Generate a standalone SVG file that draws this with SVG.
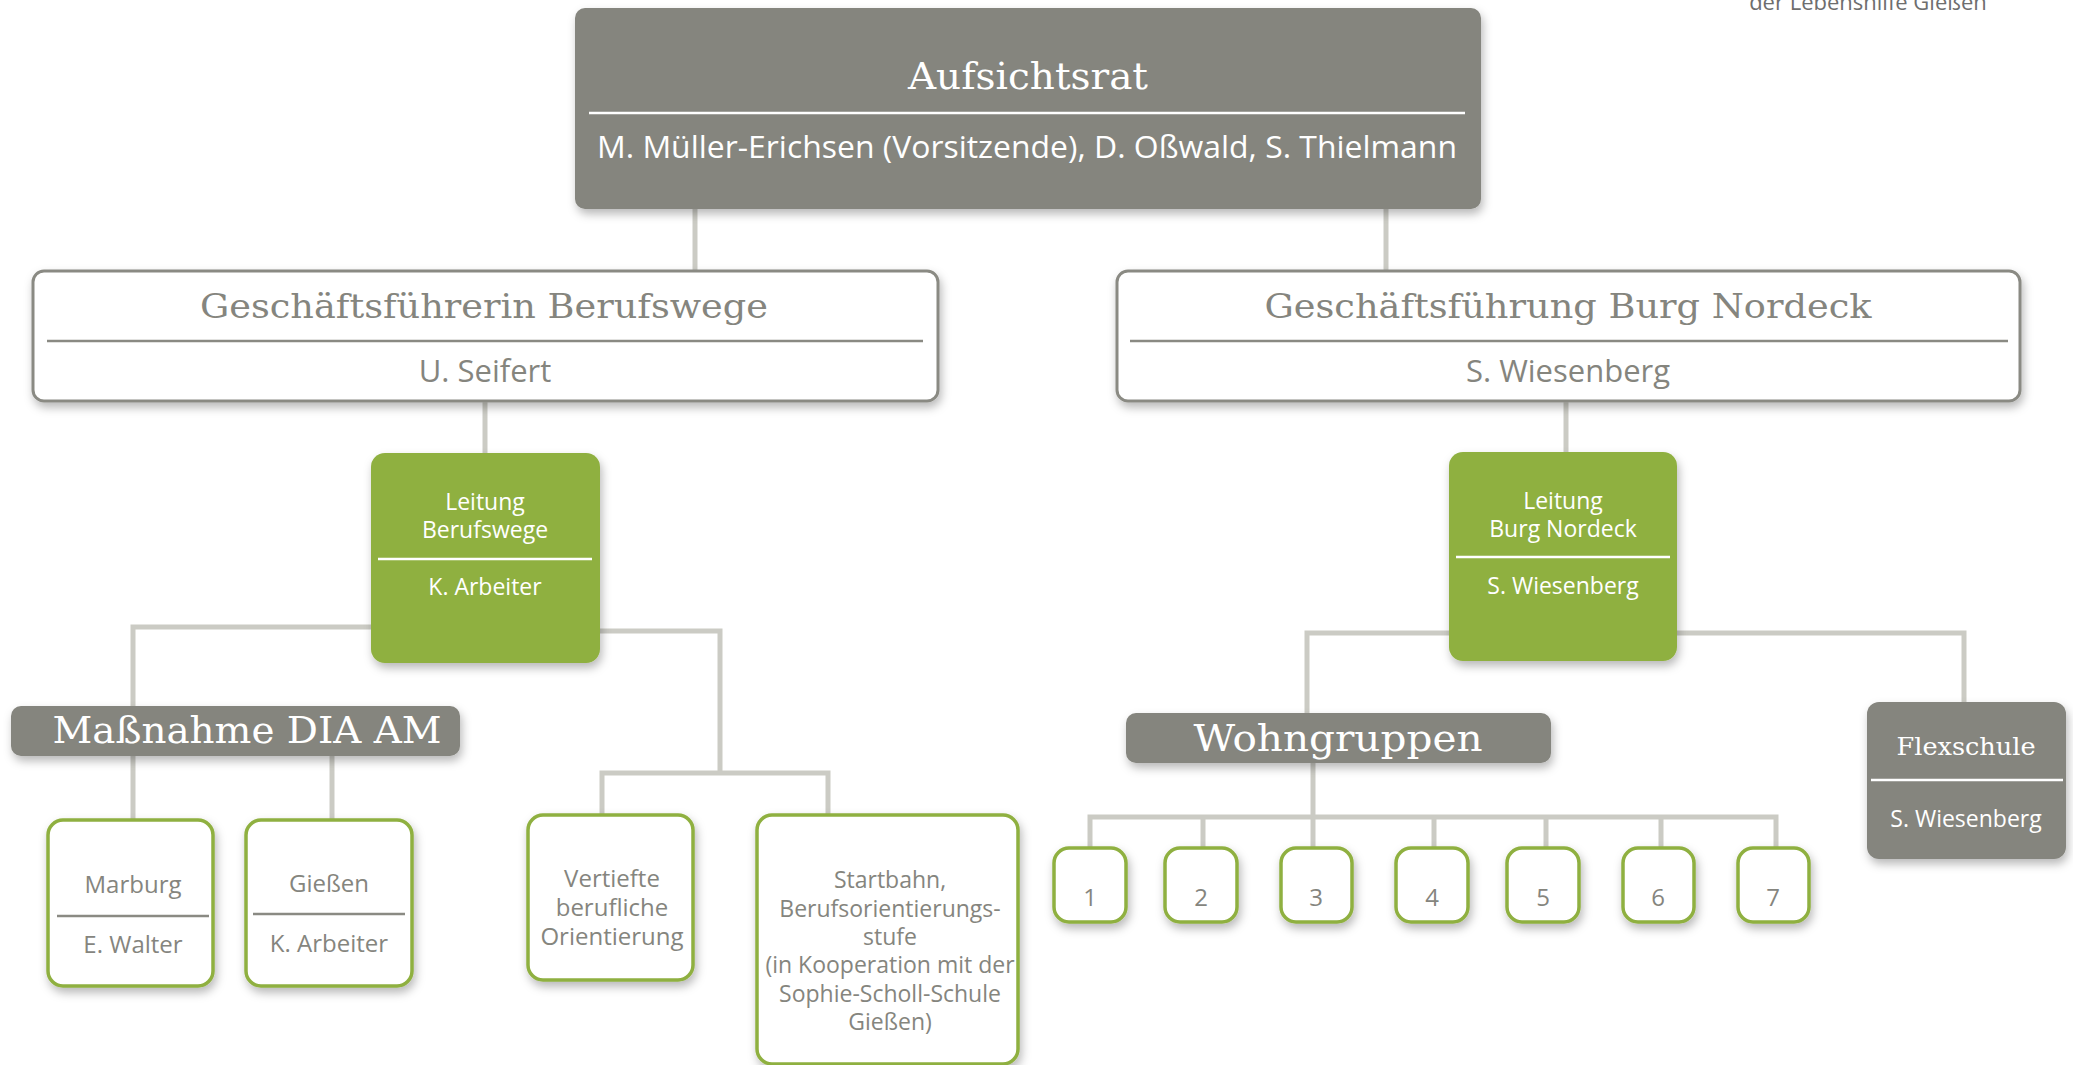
<svg xmlns="http://www.w3.org/2000/svg" width="2073" height="1065" viewBox="0 0 2073 1065">
<defs>
<filter id="sh" x="-20%" y="-20%" width="140%" height="150%">
<feDropShadow dx="2" dy="5" stdDeviation="5" flood-color="#000" flood-opacity="0.28"/>
</filter>
<style>
.gray{fill:#85857e;}
.green{fill:#8fb040;}
.wbox{fill:#fff;stroke:#8a8a83;stroke-width:3;}
.gbox{fill:#fff;stroke:#8fb040;stroke-width:3.5;}
.conn{fill:none;stroke:#cbcbc4;stroke-width:5;stroke-linejoin:miter;}
.serif{font-family:"DejaVu Serif","Liberation Serif",serif;}
.sans{font-family:"Open Sans","Liberation Sans",sans-serif;}
.w{fill:#fff;}
.t{fill:#85857e;}
.g{fill:#85857e;}
.dw{stroke:#fff;stroke-width:2.5;}
.dg{stroke:#8a8a83;stroke-width:2.5;}
</style>
</defs>
<rect width="2073" height="1065" fill="#fff"/>

<text class="sans" x="1868" y="10" font-size="22" fill="#6e6e6e" text-anchor="middle">der Lebenshilfe Gießen</text>

<g id="connectors">
<path class="conn" d="M695,209 V271"/>
<path class="conn" d="M1386,209 V271"/>
<path class="conn" d="M485,401 V453"/>
<path class="conn" d="M371,627 H133 V706"/>
<path class="conn" d="M600,631 H720 V773"/>
<path class="conn" d="M602,815 V773 H828 V815"/>
<path class="conn" d="M133,756 V820"/>
<path class="conn" d="M332,756 V820"/>
<path class="conn" d="M1566,401 V452"/>
<path class="conn" d="M1449,633 H1307 V713"/>
<path class="conn" d="M1677,633 H1964 V702"/>
<path class="conn" d="M1313,763 V847"/>
<path class="conn" d="M1090,847 V817 H1776 V847"/>
<path class="conn" d="M1203,817 V847 M1434,817 V847 M1546,817 V847 M1661,817 V847"/>
</g>

<g id="aufsichtsrat">
<rect class="gray" x="575" y="8" width="906" height="201" rx="10" filter="url(#sh)"/>
<text class="serif w" x="1028" y="89" font-size="37" text-anchor="middle" textLength="240" lengthAdjust="spacingAndGlyphs">Aufsichtsrat</text>
<line class="dw" x1="589" y1="113" x2="1465" y2="113"/>
<text class="sans w" x="1027" y="158" font-size="31" text-anchor="middle" textLength="860" lengthAdjust="spacingAndGlyphs">M. Müller-Erichsen (Vorsitzende), D. Oßwald, S. Thielmann</text>
</g>

<g id="gf-berufswege">
<rect class="wbox" x="33" y="271" width="905" height="130" rx="11" filter="url(#sh)"/>
<text class="serif t" x="484" y="318" font-size="34" text-anchor="middle" textLength="568" lengthAdjust="spacingAndGlyphs">Geschäftsführerin Berufswege</text>
<line class="dg" x1="47" y1="341" x2="923" y2="341"/>
<text class="sans g" x="485" y="382" font-size="31" text-anchor="middle">U. Seifert</text>
</g>

<g id="gf-burgnordeck">
<rect class="wbox" x="1117" y="271" width="903" height="130" rx="11" filter="url(#sh)"/>
<text class="serif t" x="1568" y="318" font-size="34" text-anchor="middle" textLength="607" lengthAdjust="spacingAndGlyphs">Geschäftsführung Burg Nordeck</text>
<line class="dg" x1="1130" y1="341" x2="2008" y2="341"/>
<text class="sans g" x="1568" y="382" font-size="31" text-anchor="middle">S. Wiesenberg</text>
</g>

<g id="leitung-berufswege">
<rect class="green" x="371" y="453" width="229" height="210" rx="14" filter="url(#sh)"/>
<text class="sans w" x="485" y="510" font-size="23" text-anchor="middle">Leitung</text>
<text class="sans w" x="485" y="538" font-size="23" text-anchor="middle">Berufswege</text>
<line class="dw" x1="378" y1="559" x2="592" y2="559"/>
<text class="sans w" x="485" y="595" font-size="23" text-anchor="middle">K. Arbeiter</text>
</g>

<g id="massnahme">
<rect class="gray" x="11" y="706" width="449" height="50" rx="10" filter="url(#sh)"/>
<text class="serif w" x="247" y="743" font-size="37" text-anchor="middle" textLength="389" lengthAdjust="spacingAndGlyphs">Maßnahme DIA AM</text>
</g>

<g id="marburg">
<rect class="gbox" x="48" y="820" width="165" height="166" rx="15" filter="url(#sh)"/>
<text class="sans g" x="133" y="893" font-size="24" text-anchor="middle">Marburg</text>
<line class="dg" x1="57" y1="916" x2="209" y2="916"/>
<text class="sans g" x="133" y="953" font-size="24" text-anchor="middle">E. Walter</text>
</g>

<g id="giessen">
<rect class="gbox" x="246" y="820" width="166" height="166" rx="15" filter="url(#sh)"/>
<text class="sans g" x="329" y="892" font-size="24" text-anchor="middle">Gießen</text>
<line class="dg" x1="253" y1="914" x2="405" y2="914"/>
<text class="sans g" x="329" y="952" font-size="24" text-anchor="middle">K. Arbeiter</text>
</g>

<g id="vertiefte">
<rect class="gbox" x="528" y="815" width="165" height="165" rx="15" filter="url(#sh)"/>
<text class="sans g" x="612" y="887" font-size="24" text-anchor="middle">Vertiefte</text>
<text class="sans g" x="612" y="916" font-size="24" text-anchor="middle">berufliche</text>
<text class="sans g" x="612" y="945" font-size="24" text-anchor="middle">Orientierung</text>
</g>

<g id="startbahn">
<rect class="gbox" x="757" y="815" width="261" height="249" rx="15" filter="url(#sh)"/>
<text class="sans g" x="890" y="888" font-size="23" text-anchor="middle">Startbahn,</text>
<text class="sans g" x="890" y="917" font-size="23" text-anchor="middle">Berufsorientierungs-</text>
<text class="sans g" x="890" y="945" font-size="23" text-anchor="middle">stufe</text>
<text class="sans g" x="890" y="973" font-size="23" text-anchor="middle">(in Kooperation mit der</text>
<text class="sans g" x="890" y="1002" font-size="23" text-anchor="middle">Sophie-Scholl-Schule</text>
<text class="sans g" x="890" y="1030" font-size="23" text-anchor="middle">Gießen)</text>
</g>

<g id="leitung-burgnordeck">
<rect class="green" x="1449" y="452" width="228" height="209" rx="14" filter="url(#sh)"/>
<text class="sans w" x="1563" y="509" font-size="23" text-anchor="middle">Leitung</text>
<text class="sans w" x="1563" y="537" font-size="23" text-anchor="middle">Burg Nordeck</text>
<line class="dw" x1="1456" y1="557" x2="1670" y2="557"/>
<text class="sans w" x="1563" y="594" font-size="23" text-anchor="middle">S. Wiesenberg</text>
</g>

<g id="wohngruppen">
<rect class="gray" x="1126" y="713" width="425" height="50" rx="10" filter="url(#sh)"/>
<text class="serif w" x="1338" y="751" font-size="38" text-anchor="middle" textLength="289" lengthAdjust="spacingAndGlyphs">Wohngruppen</text>
</g>

<g id="flexschule">
<rect class="gray" x="1867" y="702" width="199" height="157" rx="12" filter="url(#sh)"/>
<text class="serif w" x="1966" y="755" font-size="24" text-anchor="middle" textLength="139" lengthAdjust="spacingAndGlyphs">Flexschule</text>
<line class="dw" x1="1871" y1="780" x2="2063" y2="780"/>
<text class="sans w" x="1966" y="827" font-size="23" text-anchor="middle">S. Wiesenberg</text>
</g>

<g id="wg1"><rect class="gbox" x="1054" y="848" width="72" height="74" rx="15" filter="url(#sh)"/><text class="sans g" x="1090" y="906" font-size="24" text-anchor="middle">1</text></g>
<g id="wg2"><rect class="gbox" x="1165" y="848" width="72" height="74" rx="15" filter="url(#sh)"/><text class="sans g" x="1201" y="906" font-size="24" text-anchor="middle">2</text></g>
<g id="wg3"><rect class="gbox" x="1281" y="848" width="71" height="74" rx="15" filter="url(#sh)"/><text class="sans g" x="1316" y="906" font-size="24" text-anchor="middle">3</text></g>
<g id="wg4"><rect class="gbox" x="1396" y="848" width="72" height="74" rx="15" filter="url(#sh)"/><text class="sans g" x="1432" y="906" font-size="24" text-anchor="middle">4</text></g>
<g id="wg5"><rect class="gbox" x="1507" y="848" width="72" height="74" rx="15" filter="url(#sh)"/><text class="sans g" x="1543" y="906" font-size="24" text-anchor="middle">5</text></g>
<g id="wg6"><rect class="gbox" x="1623" y="848" width="71" height="74" rx="15" filter="url(#sh)"/><text class="sans g" x="1658" y="906" font-size="24" text-anchor="middle">6</text></g>
<g id="wg7"><rect class="gbox" x="1738" y="848" width="71" height="74" rx="15" filter="url(#sh)"/><text class="sans g" x="1773" y="906" font-size="24" text-anchor="middle">7</text></g>
</svg>
